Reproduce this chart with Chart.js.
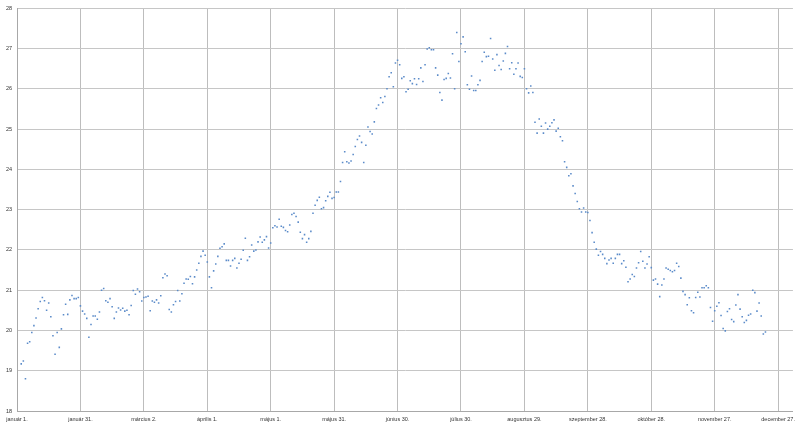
<!DOCTYPE html>
<html>
<head>
<meta charset="utf-8">
<script src="https://cdn.jsdelivr.net/npm/chart.js@4/dist/chart.umd.min.js"></script>
<style>
html,body{margin:0;padding:0;background:#fff;}
canvas{display:block;}
</style>
</head>
<body>
<canvas id="c" width="800" height="426"></canvas>
<script>
// day of year (0 = január 1.) of the first value
const startDay = 2;
// daily values, one per day
const values = [
19.17,19.24,18.80,19.68,19.72,19.95,20.12,20.31,20.54,20.72,
20.82,20.74,20.50,20.68,20.34,19.87,19.41,19.95,19.58,20.04,
20.39,20.65,20.40,20.76,20.87,20.79,20.79,20.82,20.61,20.48,
20.41,20.30,19.83,20.15,20.36,20.36,20.28,20.46,21.00,21.04,
20.74,20.70,20.79,20.59,
20.30,20.46,20.56,20.51,20.55,20.48,20.50,20.39,20.62,20.99,
20.90,21.03,20.96,20.73,20.82,20.83,20.85,20.49,20.73,20.70,
20.76,20.68,20.86,21.31,21.40,21.36,20.52,20.46,20.64,20.72,
20.99,20.73,20.91,21.17,21.28,21.27,21.34,21.16,21.33,21.50,
21.67,21.84,21.97,21.87,21.70,
21.33,21.06,21.48,21.65,21.84,22.04,22.08,22.15,21.74,21.74,
21.60,21.74,21.79,21.55,21.67,21.77,21.99,22.29,21.74,21.83,
22.12,21.97,22.00,22.20,22.32,22.19,22.25,22.33,22.05,22.17,
22.55,22.60,22.57,22.76,22.59,22.56,22.48,22.45,22.62,22.88,
22.91,22.83,22.69,22.44,22.28,
22.38,22.19,22.28,22.46,22.91,23.11,23.23,23.31,23.02,23.05,
23.22,23.33,23.43,23.28,23.30,23.44,23.44,23.70,24.17,24.44,
24.19,24.16,24.21,24.37,24.57,24.74,24.83,24.67,24.17,24.60,
25.05,24.94,24.88,25.18,25.51,
25.60,25.78,25.66,25.81,26.00,26.30,26.40,
26.05,26.64,26.71,26.60,26.26,26.30,25.93,25.99,26.20,26.13,
26.25,26.11,26.25,26.52,26.18,26.60,26.99,27.02,26.97,26.97,
26.52,26.34,25.91,25.72,26.23,26.26,26.38,26.27,26.87,26.00,
27.40,26.68,27.12,27.29,26.92,26.10,25.99,26.32,25.96,25.96,
26.10,26.21,26.68,26.91,26.80,26.81,27.25,26.74,26.46,26.85,
26.58,26.48,26.69,26.88,27.05,26.50,26.65,26.36,26.50,26.64,
26.31,26.28,26.50,26.00,25.90,26.07,25.91,25.17,24.90,25.25,
25.07,24.90,25.15,25.00,25.07,25.16,25.23,24.95,25.02,24.81,
24.71,24.19,24.05,23.84,23.89,23.59,23.40,23.20,23.02,22.94,
23.04,22.94,22.93,22.73,22.43,22.19,22.02,21.87,21.96,21.89,
21.79,21.66,21.75,21.79,21.67,21.79,21.89,21.89,21.66,21.73,
21.57,21.21,21.28,21.39,21.34,21.55,21.68,21.96,21.72,21.55,
21.65,21.83,21.56,21.25,21.28,21.15,20.84,21.13,21.28,21.55,
21.52,21.49,21.46,21.49,21.67,21.59,21.30,20.97,20.89,20.64,
20.81,20.49,20.44,20.82,20.95,20.83,21.06,21.06,21.11,21.06,
20.57,20.23,20.49,20.60,20.69,20.37,20.05,19.99,20.47,20.54,
20.27,20.22,20.63,20.89,20.53,20.34,20.20,20.25,20.38,20.41,
21.00,20.94,20.48,20.68,20.36,19.91,19.96
];
// x tick labels, one every 30 days from január 1.
const tickLabels = ['január 1.','január 31.','március 2.','április 1.','május 1.','május 31.','június 30.','július 30.','augusztus 29.','szeptember 28.','október 28.','november 27.','december 27.'];
const tickStep = 30;
const xMax = 367;
const yMin = 18, yMax = 28;

const points = values.map((v, i) => ({x: startDay + i, y: v}));

const font = {family: "'Liberation Sans', Arial, sans-serif", size: 5.5};
new Chart(document.getElementById('c'), {
  type: 'scatter',
  data: {
    datasets: [{
      data: points,
      pointStyle: 'rect',
      pointRadius: 1.1,
      pointHoverRadius: 1.1,
      pointBorderWidth: 0,
      backgroundColor: '#5B8BC9',
      borderColor: '#5B8BC9'
    }]
  },
  options: {
    responsive: false,
    animation: false,
    events: [],
    layout: {padding: {top: 5, right: 3, left: 0, bottom: 0}},
    plugins: {legend: {display: false}, tooltip: {enabled: false}},
    scales: {
      x: {
        type: 'linear',
        min: 0,
        max: xMax,
        afterBuildTicks: (scale) => {
          scale.ticks = tickLabels.map((_, i) => ({value: i * tickStep}));
        },
        afterFit: (scale) => { scale.height = 15; },
        grid: {color: '#bdbdbd', lineWidth: 1, drawTicks: false},
        border: {color: '#a8a8a8'},
        ticks: {
          font: font,
          color: '#333333',
          padding: 5,
          maxRotation: 0,
          autoSkip: false,
          callback: (v) => tickLabels[Math.round(v / tickStep)]
        }
      },
      y: {
        min: yMin,
        max: yMax,
        afterFit: (scale) => { scale.width = 17; },
        grid: {color: '#c6c6c6', lineWidth: 1, drawTicks: false},
        border: {color: '#a8a8a8'},
        ticks: {font: font, color: '#333333', stepSize: 1, padding: 5}
      }
    }
  }
});
</script>
</body>
</html>
